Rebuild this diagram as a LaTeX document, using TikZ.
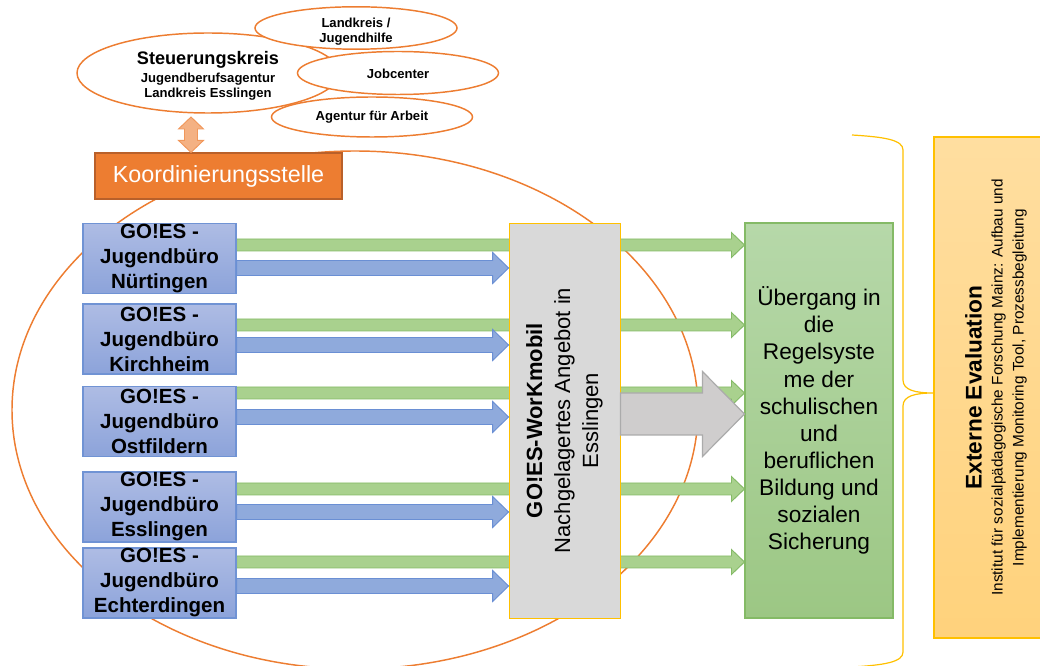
\documentclass[tikz,border=0pt]{standalone}
\usepackage{fontspec}
\setmainfont{Liberation Sans}
\usetikzlibrary{calc,shapes.geometric,backgrounds}

\definecolor{orgline}{HTML}{ED7D31}
\definecolor{orgdark}{HTML}{B9602A}
\definecolor{orglight}{HTML}{F4B183}
\definecolor{gotop}{HTML}{AEBCE4}
\definecolor{gobot}{HTML}{8CA3DA}
\definecolor{goborder}{HTML}{7093D4}
\definecolor{blfill}{HTML}{8FAADC}
\definecolor{blborder}{HTML}{6A8FD4}
\definecolor{grfill}{HTML}{A9D18E}
\definecolor{grborder}{HTML}{84BA66}
\definecolor{regtop}{HTML}{B6D8A9}
\definecolor{regbot}{HTML}{9CC784}
\definecolor{gyfill}{HTML}{D9D9D9}
\definecolor{gyarrfill}{HTML}{CFCDCD}
\definecolor{gyborder}{HTML}{ABABAB}
\definecolor{yelline}{HTML}{FFC000}
\definecolor{exttop}{HTML}{FFDEA0}
\definecolor{extbot}{HTML}{FFD27C}

\tikzset{
  smallell/.style={ellipse, draw=orgline, fill=white, line width=1.1pt, inner sep=0pt, align=center, font=\fontsize{9.8}{11.25}\selectfont\bfseries},
  gobox/.style={draw=goborder, top color=gotop, bottom color=gobot, line width=0.8pt, minimum width=114.75pt, minimum height=52.5pt, inner sep=0pt, align=center, font=\fontsize{15.4}{18.75}\selectfont\bfseries},
  grarrow/.style={draw=grborder, fill=grfill, line width=0.7pt},
  blarrow/.style={draw=blborder, fill=blfill, line width=0.7pt},
  gyarrow/.style={draw=gyborder, fill=gyarrfill, line width=0.9pt},
  dblarrow/.style={draw=orgline!80, fill=orglight, line width=0.7pt},
  ringline/.style={draw=orgline, line width=1.1pt},
  braceline/.style={draw=yelline, line width=0.9pt}
}

\def\fatarrow[#1](#2)(#3)(#4:#5:#6){\draw[#1] ($(#2)+(0,-#4)$) -- ($(#3)+(-#6,-#4)$) -- ($(#3)+(-#6,-#5)$) -- (#3) -- ($(#3)+(-#6,#5)$) -- ($(#3)+(-#6,#4)$) -- ($(#2)+(0,#4)$) -- cycle;}
\newcommand\ellstack[2]{\raisebox{#1}[\height][\depth]{\begin{tabular}{@{}c@{}}#2\end{tabular}}}

\begin{document}
\begin{tikzpicture}[x=0.75pt,y=-0.75pt]
			\useasboundingbox (0,0) rectangle (1040,666);
			
			% Steuerungskreis und Partner
			\node[smallell, minimum width=196.5pt, minimum height=60pt] (steuer) at (208,73) {\ellstack{-3pt}{{\fontsize{13.6}{14.5}\selectfont Steuerungskreis}\\[2.2pt]Jugendberufsagentur\\Landkreis Esslingen}};
			\node[smallell, minimum width=151.5pt, minimum height=31.5pt] (landkr) at (356,28) {\ellstack{-3pt}{Landkreis /\\Jugendhilfe}};
			\node[smallell, minimum width=150.75pt, minimum height=32.25pt] (jobc) at (398,73) {\ellstack{-2.2pt}{Jobcenter}};
			\node[smallell, minimum width=150.75pt, minimum height=30pt] (agentur) at (372,117) {Agentur für Arbeit};
			
			% Koordinierungsstelle
			\node[draw=orgdark, fill=orgline, line width=0.9pt, minimum width=185.25pt, minimum height=34.5pt, inner sep=0pt, text=white, font=\fontsize{17.5}{20}\selectfont] (koord) at (218.5,176) {Koordinierungsstelle};
			
			\coordinate (dt) at (191,117);
			\coordinate (db) at (dt |- koord.north);
			\draw[dblarrow] (dt) -- ($(dt)+(12.5,12)$) -- ($(dt)+(6.5,12)$) -- ($(db)+(6.5,-12)$) -- ($(db)+(12.5,-12)$) -- (db) -- ($(db)+(-12.5,-12)$) -- ($(db)+(-6.5,-12)$) -- ($(dt)+(-6.5,12)$) -- ($(dt)+(-12.5,12)$) -- cycle;
			
			% Jugendbueros
			\node[gobox] (nuert) at (159.5,258.5) {GO!ES -\\Jugendbüro\\Nürtingen};
			\node[gobox] (kirch) at (159.5,339) {GO!ES -\\Jugendbüro\\Kirchheim};
			\node[gobox] (ostf) at (159.5,421.5) {GO!ES -\\Jugendbüro\\Ostfildern};
			\node[gobox] (essl) at (159.5,507) {GO!ES -\\Jugendbüro\\Esslingen};
			\node[gobox] (echt) at (159.5,583) {GO!ES -\\Jugendbüro\\Echterdingen};
			
			% WorKmobil und Regelsysteme
			\node[draw=yelline, fill=gyfill, line width=0.6pt, rotate=90, minimum width=296.25pt, minimum height=83.25pt, inner sep=0pt, align=center, font=\fontsize{16.5}{21}\selectfont] (wm) at (564.5,420.5) {{\bfseries GO!ES-WorKmobil}\\Nachgelagertes Angebot in\\Esslingen};
			\node[draw=grborder, top color=regtop, bottom color=regbot, line width=0.8pt, minimum width=111pt, minimum height=296.25pt, inner sep=0pt, align=center, font=\fontsize{17}{20.3}\selectfont] (reg) at (819,420.5) {Übergang in\\die\\Regelsyste\\me der\\schulischen\\und\\beruflichen\\Bildung und\\sozialen\\Sicherung};
			
			% Externe Evaluation
			\node[draw=yelline, top color=exttop, bottom color=extbot, line width=0.8pt, rotate=90, minimum width=375.75pt, minimum height=93pt, inner sep=0pt, align=center, font=\fontsize{11.5}{15.75}\selectfont] (ext) at (996,387.5) {{\fontsize{17}{16.5}\selectfont\bfseries Externe Evaluation}\\Institut für sozialpädagogische Forschung Mainz: Aufbau und\\Implementierung Monitoring Tool, Prozessbegleitung};
			
			\coordinate (btip) at (ext.north |- 0,393);
			\draw[braceline] (852,135) .. controls (885,137) and (903,140) .. (903,150) -- (903,380) .. controls (903,390) and (915,393) .. (btip) .. controls (915,393) and (903,396) .. (903,406) -- (903,652) .. controls (903,662) and (885,665) .. (852,667);
			
			% Pfeile
			\coordinate (g1) at ($(nuert.east)+(0,-13.5)$);
			\coordinate (g2) at ($(kirch.east)+(0,-14)$);
			\coordinate (g3) at ($(ostf.east)+(0,-28.5)$);
			\coordinate (g4) at ($(essl.east)+(0,-18)$);
			\coordinate (g5) at ($(echt.east)+(0,-21)$);
			\coordinate (b1) at ($(nuert.east)+(0,9.5)$);
			\coordinate (b2) at ($(kirch.east)+(0,6)$);
			\coordinate (b3) at ($(ostf.east)+(0,-4.5)$);
			\coordinate (b4) at ($(essl.east)+(0,5)$);
			\coordinate (b5) at ($(echt.east)+(0,3)$);
			\coordinate (gs) at ($(wm.south)+(0,-6.5)$);
			
			\begin{pgfonlayer}{background}
				\draw[ringline] (355,410) ellipse [x radius=257.25pt, y radius=194.25pt];
				\fatarrow[grarrow](g1)(reg.west |- g1)(6:12.5:13)
				\fatarrow[grarrow](g2)(reg.west |- g2)(6:12.5:13)
				\fatarrow[grarrow](g3)(reg.west |- g3)(6:12.5:13)
				\fatarrow[grarrow](g4)(reg.west |- g4)(6:12.5:13)
				\fatarrow[grarrow](g5)(reg.west |- g5)(6:12.5:13)
			\end{pgfonlayer}
			
			\fatarrow[blarrow](b1)(wm.north |- b1)(7.5:15.5:16)
			\fatarrow[blarrow](b2)(wm.north |- b2)(7.5:15.5:16)
			\fatarrow[blarrow](b3)(wm.north |- b3)(7.5:15.5:16)
			\fatarrow[blarrow](b4)(wm.north |- b4)(7.5:15.5:16)
			\fatarrow[blarrow](b5)(wm.north |- b5)(7.5:15.5:16)
			
			\fatarrow[gyarrow](gs)(reg.west |- gs)(21:42.5:42)
			
\end{tikzpicture}
\end{document}
